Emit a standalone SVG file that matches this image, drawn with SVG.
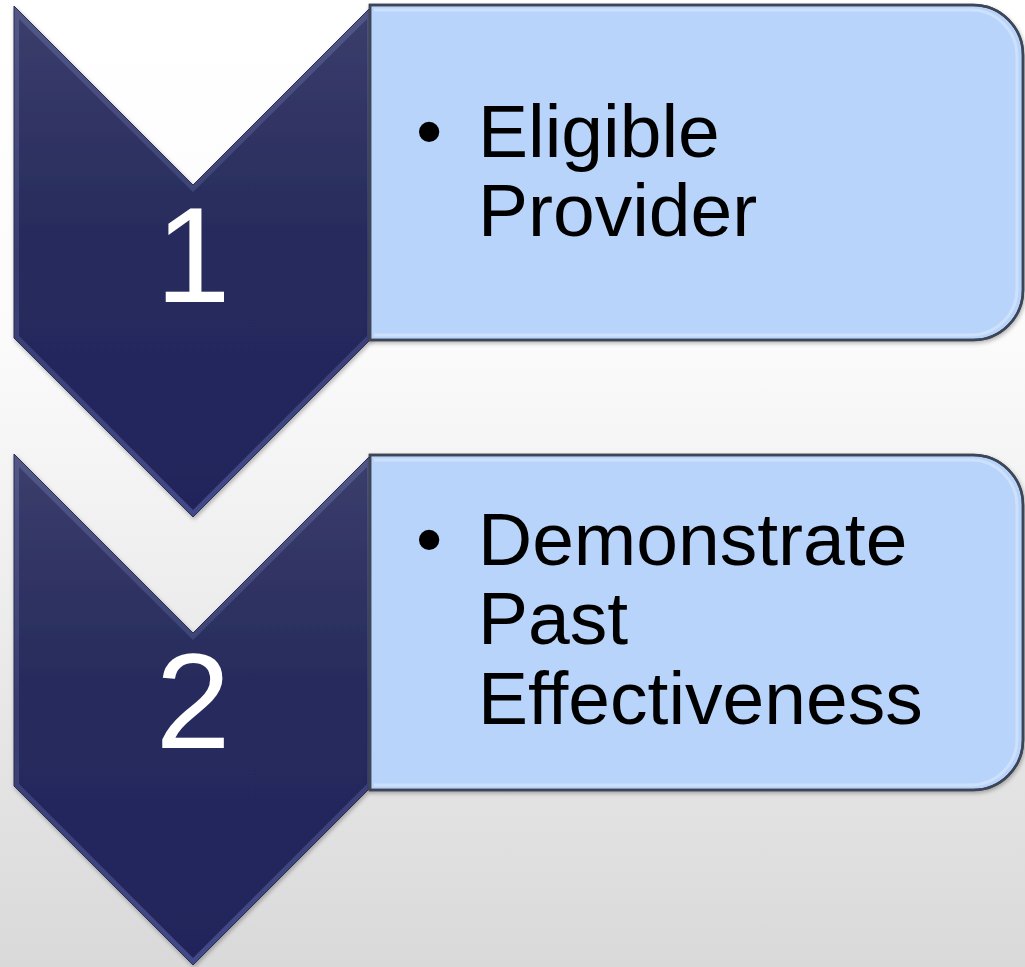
<svg xmlns="http://www.w3.org/2000/svg" width="1025" height="967" viewBox="0 0 1025 967">
  <defs>
    <linearGradient id="bg" x1="0" y1="0" x2="0" y2="1">
      <stop offset="0" stop-color="#ffffff"/>
      <stop offset="0.35" stop-color="#fbfbfb"/>
      <stop offset="1" stop-color="#d9d9d9"/>
    </linearGradient>
    <linearGradient id="chevBevel" x1="0" y1="0" x2="0" y2="1">
      <stop offset="0" stop-color="#525787"/>
      <stop offset="0.5" stop-color="#373c70"/>
      <stop offset="1" stop-color="#424987"/>
    </linearGradient>
    <linearGradient id="chevFill" x1="0" y1="0" x2="0" y2="1">
      <stop offset="0" stop-color="#3a3d6a"/>
      <stop offset="0.45" stop-color="#272b5c"/>
      <stop offset="1" stop-color="#20245a"/>
    </linearGradient>
    <filter id="shadow" x="-5%" y="-5%" width="110%" height="110%">
      <feDropShadow dx="1" dy="2" stdDeviation="2" flood-color="#000" flood-opacity="0.3"/>
    </filter>
  </defs>
  <style>
    .bevel { fill: url(#chevBevel); stroke: #2a2e55; stroke-width: 1; }
    .chev { fill: url(#chevFill); }
    .box { fill: #b8d4fa; stroke: #3e4556; stroke-width: 2.5; }
    .boxline { fill: none; stroke: #3e4556; stroke-width: 2.5; }
    .boxhi { fill: none; stroke: #cde0fc; stroke-width: 3; }
    .num { font-family: "Liberation Sans", Arial, sans-serif; font-size: 135px; fill: #ffffff; text-anchor: middle; }
    .txt { font-family: "Liberation Sans", Arial, sans-serif; font-size: 75px; fill: #000000; }
  </style>
  <rect x="0" y="0" width="1025" height="967" fill="url(#bg)"/>

  <g id="step1">
    <g id="chevron1" filter="url(#shadow)">
      <polygon class="bevel" points="14,6 193,185 372,6 372,338 193,517 14,338"/>
      <polygon class="chev" points="19,19 193,192 367,19 367,336 193,510 19,336"/>
    </g>
    <text class="num" x="193" y="302">1</text>
  </g>

  <g id="box1">
    <path class="box" filter="url(#shadow)" d="M370,5 H973 A50,50 0 0 1 1023,55 V290 A50,50 0 0 1 973,340 H370 Z"/>
    <path class="boxhi" d="M374,10 H971 A46,46 0 0 1 1017,56 V289 A46,46 0 0 1 971,335 H374"/>
    <path class="boxline" d="M370,5 H973 A50,50 0 0 1 1023,55 V290 A50,50 0 0 1 973,340 H370 Z"/>
    <text class="txt"><tspan x="416" y="157">•</tspan><tspan x="478" y="157">Eligible</tspan><tspan x="478" y="236">Provider</tspan></text>
  </g>

  <g id="step2">
    <g id="chevron2" filter="url(#shadow)">
      <polygon class="bevel" points="14,454 193,633 372,454 372,786 193,965 14,786"/>
      <polygon class="chev" points="19,467 193,640 367,467 367,784 193,958 19,784"/>
    </g>
    <text class="num" x="193" y="748">2</text>
  </g>

  <g id="box2">
    <path class="box" filter="url(#shadow)" d="M370,455 H973 A50,50 0 0 1 1023,505 V740 A50,50 0 0 1 973,790 H370 Z"/>
    <path class="boxhi" d="M374,460 H971 A46,46 0 0 1 1017,506 V739 A46,46 0 0 1 971,785 H374"/>
    <path class="boxline" d="M370,455 H973 A50,50 0 0 1 1023,505 V740 A50,50 0 0 1 973,790 H370 Z"/>
    <text class="txt"><tspan x="416" y="565">•</tspan><tspan x="478" y="565">Demonstrate</tspan><tspan x="478" y="644">Past</tspan><tspan x="478" y="724">Effectiveness</tspan></text>
  </g>

  <g id="connectors"></g>
</svg>
